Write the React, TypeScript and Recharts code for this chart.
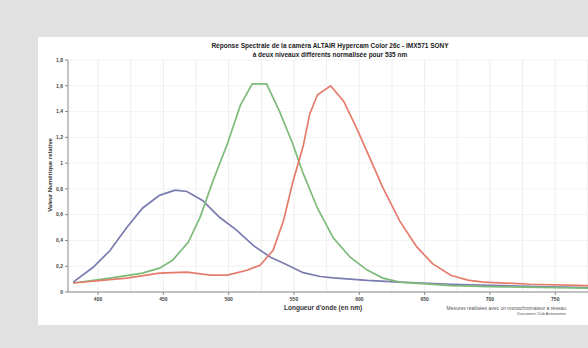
import React from "react";
import { LineChart, Line, XAxis, YAxis, CartesianGrid, ReferenceLine } from "recharts";

const wavelengths = [381, 396, 409, 422, 434, 447, 457, 459, 468, 469, 478, 480, 486, 488, 493, 499, 506, 509, 514, 518, 519, 524, 529, 532, 534, 539, 542, 545, 549, 557, 562, 568, 570, 578, 580, 588, 593, 598, 606, 608, 618, 631, 644, 656, 670, 683, 695, 708, 731, 746, 775, 785];

const blueSeries: (number | null)[] = [0.077, 0.19, 0.32, 0.5, 0.65, 0.75, null, 0.79, 0.78, null, null, 0.71, null, null, 0.58, null, 0.48, null, null, null, 0.36, null, null, 0.27, null, null, null, 0.21, null, 0.15, null, null, 0.12, null, 0.11, null, null, null, 0.09, null, null, 0.077, null, null, 0.06, null, null, 0.05, null, 0.04, 0.035, 0.033];

const greenSeries: (number | null)[] = [0.07, null, 0.108, null, 0.146, 0.185, 0.246, null, null, 0.385, 0.577, null, null, 0.862, null, 1.15, null, 1.45, null, 1.615, null, null, 1.615, null, null, 1.4, null, null, 1.15, 0.92, null, 0.65, null, null, 0.42, null, 0.27, null, 0.17, null, 0.108, 0.077, null, null, 0.05, null, null, 0.04, null, null, 0.03, 0.03];

const redSeries: (number | null)[] = [0.07, null, null, 0.108, null, 0.146, null, null, 0.154, null, null, null, 0.131, null, null, 0.131, null, null, 0.169, null, null, 0.208, null, null, 0.323, null, 0.554, null, 0.85, 1.13, 1.38, 1.53, null, 1.6, null, 1.48, null, 1.27, null, 1.04, 0.81, 0.55, 0.35, 0.22, 0.13, 0.092, 0.077, null, 0.06, null, 0.05, 0.05];

const xTicks = [400, 450, 500, 550, 600, 650, 700, 750];
const yTicks = [0, 0.2, 0.4, 0.6, 0.8, 1, 1.2, 1.4, 1.6, 1.8];
const gridX = [375, 400, 425, 450, 475, 500, 525, 550, 575, 600, 625, 650, 675, 700, 725, 750, 775];

const titleLine1 = "Réponse Spectrale de la caméra ALTAIR Hypercam Color 26c - IMX571 SONY";
const titleLine2 = "à deux niveaux différents normalisée pour 535 nm";
const xLabel = "Longueur d'onde (en nm)";
const yLabel = "Valeur Numérique relative";
const noteLine1 = "Mesures réalisées avec un monochromateur à réseau";
const noteLine2 = "Document Club Astronomie";

const data = wavelengths.map((w, i) => ({
  w,
  blue: blueSeries[i],
  green: greenSeries[i],
  red: redSeries[i],
}));

const fmt = (v: number) => (v === 0 ? "0" : String(v).replace(".", ","));

const font = "'Liberation Sans', Arial, sans-serif";

export default function App() {
  return (
    <div
      style={{
        position: "absolute",
        left: 0,
        top: 0,
        width: 588,
        height: 348,
        background: "#e1e1e1",
        overflow: "hidden",
        fontFamily: font,
      }}
    >
      <div
        style={{
          position: "absolute",
          left: 38,
          top: 37,
          width: 570,
          height: 288,
          background: "#ffffff",
        }}
      />
      <div style={{ position: "absolute", left: 0, top: 0 }}>
        <LineChart
          width={620}
          height={348}
          data={data}
          margin={{ top: 60, right: 19, bottom: 36, left: 48 }}
        >
          <CartesianGrid stroke="#f0f0f0" vertical={false} strokeWidth={0.8} />
          {gridX.map((g) => (
            <ReferenceLine key={g} x={g} stroke="#e8e8e8" strokeWidth={0.8} />
          ))}
          <XAxis
            dataKey="w"
            type="number"
            domain={[377, 785]}
            ticks={xTicks}
            allowDataOverflow
            height={20}
            stroke="#888"
            tickSize={3}
            tick={{ fontSize: 5, fill: "#444", fontWeight: 700, fontFamily: font }}
          />
          <YAxis
            type="number"
            domain={[0, 1.8]}
            ticks={yTicks}
            width={20}
            stroke="#888"
            tickSize={3}
            tickFormatter={fmt}
            tick={{ fontSize: 5, fill: "#444", fontWeight: 700, fontFamily: font }}
          />
          <Line
            dataKey="blue"
            stroke="#7a7bb0"
            strokeWidth={1.7}
            dot={false}
            connectNulls
            isAnimationActive={false}
          />
          <Line
            dataKey="green"
            stroke="#7dbb79"
            strokeWidth={1.7}
            dot={false}
            connectNulls
            isAnimationActive={false}
          />
          <Line
            dataKey="red"
            stroke="#e57b6b"
            strokeWidth={1.7}
            dot={false}
            connectNulls
            isAnimationActive={false}
          />
        </LineChart>
      </div>
      <div
        style={{
          position: "absolute",
          left: 130,
          top: 41,
          width: 400,
          textAlign: "center",
          fontSize: 6.5,
          fontWeight: 700,
          lineHeight: "9px",
          color: "#222",
        }}
      >
        <div>{titleLine1}</div>
        <div>{titleLine2}</div>
      </div>
      <div
        style={{
          position: "absolute",
          left: 5,
          top: 172,
          width: 90,
          textAlign: "center",
          fontSize: 6,
          fontWeight: 700,
          color: "#333",
          transform: "rotate(-90deg)",
          transformOrigin: "center",
        }}
      >
        {yLabel}
      </div>
      <div
        style={{
          position: "absolute",
          left: 284,
          top: 304,
          fontSize: 6.5,
          fontWeight: 700,
          color: "#333",
          whiteSpace: "nowrap",
        }}
      >
        {xLabel}
      </div>
      <div
        style={{
          position: "absolute",
          left: 442,
          top: 305,
          width: 124,
          fontSize: 5,
          color: "#555",
          whiteSpace: "nowrap",
          textAlign: "right",
          lineHeight: "6px",
        }}
      >
        <div>{noteLine1}</div>
        <div style={{ fontSize: 4 }}>{noteLine2}</div>
      </div>
    </div>
  );
}
